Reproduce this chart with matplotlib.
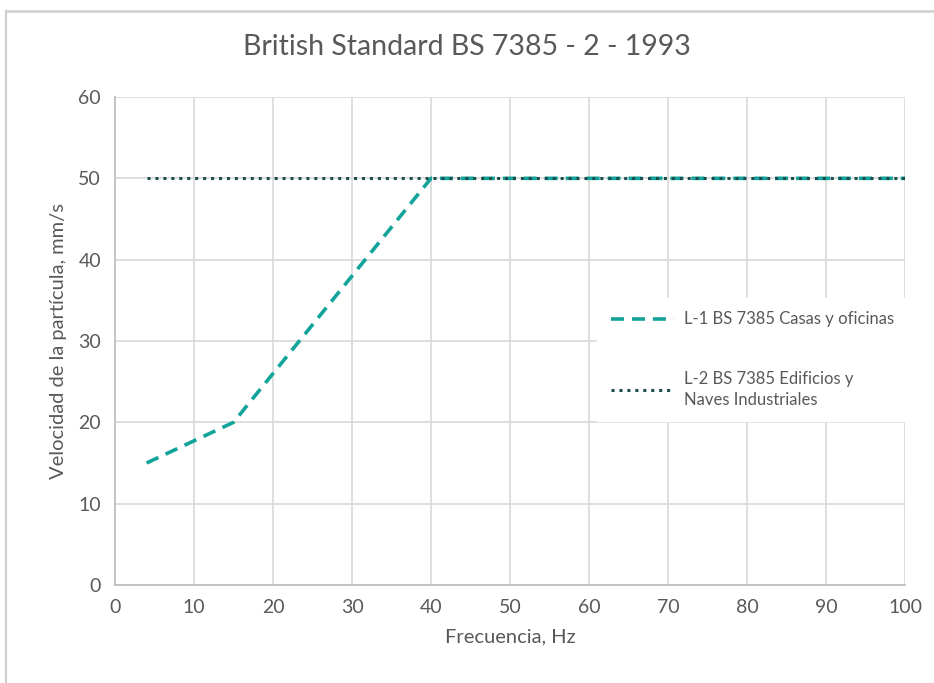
import matplotlib.pyplot as plt
from matplotlib.lines import Line2D

# data
freq_l1 = [4, 15, 40, 100]
vel_l1 = [15, 20, 50, 50]
freq_l2 = [4, 100]
vel_l2 = [50, 50]

label_l1 = "L-1 BS 7385 Casas y oficinas"
label_l2 = "L-2 BS 7385 Edificios y\nNaves Industriales"

plt.rcParams['font.family'] = ['Lato', 'DejaVu Sans']
gray = '#595959'

fig = plt.figure(figsize=(9.34, 6.83), dpi=100)
# chart area border like Excel (top and left edges)
top = 1 - 11 / 683
left = 5.5 / 934
fig.add_artist(Line2D([left, 1], [top, top], transform=fig.transFigure,
                      color='#CFCFCF', linewidth=1.8))
fig.add_artist(Line2D([left, left], [0, top], transform=fig.transFigure,
                      color='#CFCFCF', linewidth=1.5))

ax = fig.add_axes([115 / 934, 98 / 683, 790 / 934, 488 / 683])
ax.plot(freq_l1, vel_l1, color='#12A39A', linestyle=(0, (3.6, 2.2)), linewidth=2.6,
        label=label_l1, zorder=3)
ax.plot(freq_l2, vel_l2, color='#1B4D4D', linestyle=(0, (1, 1.6)), linewidth=2.2,
        label=label_l2, zorder=4)

ax.set_xlim(0, 100)
ax.set_ylim(0, 60)
ax.set_xticks(range(0, 101, 10))
ax.set_yticks(range(0, 61, 10))
ax.grid(True, color='#D9D9D9', linewidth=1.2)
ax.set_axisbelow(True)
ax.tick_params(length=0, labelsize=14, colors=gray, pad=10)
for s in ['top', 'right']:
    ax.spines[s].set_visible(False)
ax.spines['left'].set_color('#BFBFBF')
ax.spines['bottom'].set_color('#BFBFBF')
ax.spines['left'].set_linewidth(1.3)
ax.spines['bottom'].set_linewidth(1.3)

ax.set_xlabel("Frecuencia, Hz", fontsize=14.5, color=gray, labelpad=9)
ax.set_ylabel("Velocidad de la partícula, mm/s", fontsize=14.5, color=gray, labelpad=8)
fig.text(0.5, 1 - 47 / 683, "British Standard BS 7385 - 2 - 1993", ha='center', va='center',
         fontsize=20.5, color=gray)

leg = ax.legend(loc='upper left', bbox_to_anchor=(0.6, 0.605), frameon=True,
                fontsize=12, labelcolor=gray, handlelength=3.8, handletextpad=0.6,
                labelspacing=2.6, borderpad=0.8, fancybox=False)
leg.get_frame().set_edgecolor('white')
leg.get_frame().set_facecolor('white')
leg.get_frame().set_alpha(1)
for t in leg.get_texts():
    t.set_linespacing(1.4)

fig.savefig("out.png", dpi=100)
